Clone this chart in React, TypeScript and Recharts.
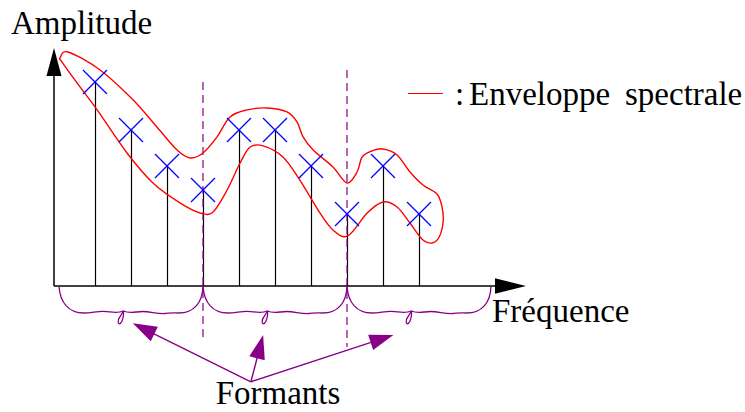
import React from 'react';
import { ComposedChart, XAxis, YAxis, Bar, Scatter, ReferenceLine } from 'recharts';

// harmonics: frequency index and amplitude
const FREQS = [1, 2, 3, 4, 5, 6, 7, 8, 9, 10];
const AMPS = [17, 13, 10, 8, 13, 13, 10, 6, 10, 6];

// closed spectral envelope, upper edge left->right then lower edge right->left
const ENV_X = [
  0.03, 0.25, 1.14, 2.06, 2.72, 3.28, 3.64, 4.0, 4.39, 4.75, 5.22, 5.78, 6.33, 6.61, 6.78, 7.06, 7.61, 8.0,
  8.28, 8.42, 8.69, 9.0, 9.39, 9.75, 10.11, 10.5, 10.64, 10.67, 10.56, 10.36, 10.08,
  9.75, 9.39, 9.0, 8.56, 8.02, 7.61, 7.25, 6.69, 6.22, 5.67, 5.31, 5.03, 4.67, 4.28, 3.92, 3.36, 2.61, 1.89, 1.06, 0.5, 0.08,
];
const ENV_Y = [
  19.0, 19.5, 18.0, 15.5, 13.25, 11.33, 10.67, 11.08, 12.42, 14.08, 14.67, 14.83, 14.5, 13.67, 12.42, 11.33, 9.92, 8.58,
  9.5, 10.75, 11.25, 11.42, 10.92, 9.5, 8.42, 7.67, 6.58, 5.33, 4.08, 3.58, 3.92,
  5.25, 6.58, 7.0, 6.08, 4.17, 4.67, 6.08, 8.83, 10.75, 11.67, 11.58, 10.25, 8.0, 6.17, 6.08, 6.92, 8.58, 11.08, 14.67, 16.92, 18.67,
];

const FORMANT_BOUNDS = [0, 4, 8, 12];
const DASH_X = [4, 8];
const DASH_TOP = [17, 18];
const DASH_BOTTOM = [-4.67, -5.08];

const ARROW_FROM_X = 5.33;
const ARROW_FROM_Y = -7.98;
const ARROW_TIP_X = [2.05, 5.67, 9.29];
const ARROW_TIP_Y = [-3.11, -4.08, -4.08];

const X_MIN = -0.139;
const X_MAX = 12.972;
const Y_MAX = 19.83;

const PURPLE = '#880088';
const SERIF = '"Liberation Serif", "Times New Roman", serif';

const stems = FREQS.map((f, i) => ({ x: f, y: AMPS[i] }));
const envelope = ENV_X.map((x, i) => ({ x, y: ENV_Y[i] }));

function closedSpline(pts: { x: number; y: number }[]) {
  const n = pts.length;
  if (!n) return '';
  let d = `M${pts[0].x},${pts[0].y}`;
  for (let i = 0; i < n; i++) {
    const p0 = pts[(i - 1 + n) % n];
    const p1 = pts[i];
    const p2 = pts[(i + 1) % n];
    const p3 = pts[(i + 2) % n];
    const c1x = p1.x + (p2.x - p0.x) / 6;
    const c1y = p1.y + (p2.y - p0.y) / 6;
    const c2x = p2.x - (p3.x - p1.x) / 6;
    const c2y = p2.y - (p3.y - p1.y) / 6;
    d += ` C${c1x},${c1y} ${c2x},${c2y} ${p2.x},${p2.y}`;
  }
  return d + 'Z';
}

const Stem = (props: any) => {
  const { x, y, width, height } = props;
  const cx = Math.round(x + width / 2) + 0.5;
  return <line x1={cx} y1={y} x2={cx} y2={y + height} stroke="#000" strokeWidth={1.2} />;
};

const Cross = (props: any) => {
  const { cx, cy } = props;
  const r = 12;
  return (
    <g>
      <line x1={cx - r} y1={cy - r} x2={cx + r} y2={cy + r} stroke="#0000ff" strokeWidth={1.3} />
      <line x1={cx - r} y1={cy + r} x2={cx + r} y2={cy - r} stroke="#0000ff" strokeWidth={1.3} />
    </g>
  );
};

const arrowShape = (color: string, len: number, half: number, width: number) => (p: any) => {
  const { x1, y1, x2, y2 } = p;
  const dx = x2 - x1;
  const dy = y2 - y1;
  const d = Math.hypot(dx, dy) || 1;
  const ux = dx / d;
  const uy = dy / d;
  const bx = x2 - ux * len;
  const by = y2 - uy * len;
  return (
    <g>
      <line x1={x1} y1={y1} x2={bx + ux * 2} y2={by + uy * 2} stroke={color} strokeWidth={width} />
      <polygon
        points={`${x2},${y2} ${bx - uy * half},${by + ux * half} ${bx + uy * half},${by - ux * half}`}
        fill={color}
      />
    </g>
  );
};

// horizontal curly brace hanging below the axis, small loop just left of the middle
const braceShape = (p: any) => {
  const { x1, y1, x2 } = p;
  const s = (x2 - x1) / 144.4;
  const X = (v: number) => x1 + v * s;
  const Y = (v: number) => y1 + v;
  const d = [
    `M${X(0)},${Y(0)}`,
    `C${X(1)},${Y(17)} ${X(10)},${Y(27)} ${X(25)},${Y(27)}`,
    `C${X(33)},${Y(27)} ${X(38)},${Y(25)} ${X(45)},${Y(25.3)}`,
    `C${X(52)},${Y(25.6)} ${X(58)},${Y(28)} ${X(64.5)},${Y(25)}`,
    `C${X(65.5)},${Y(29)} ${X(63.5)},${Y(36)} ${X(61.5)},${Y(37.5)}`,
    `C${X(59)},${Y(39)} ${X(58.5)},${Y(34)} ${X(61)},${Y(31)}`,
    `C${X(62.5)},${Y(29)} ${X(63.5)},${Y(26.5)} ${X(64.5)},${Y(25)}`,
    `C${X(71)},${Y(28)} ${X(77)},${Y(25.5)} ${X(84)},${Y(25.5)}`,
    `C${X(92)},${Y(25.5)} ${X(98)},${Y(28)} ${X(106)},${Y(27.5)}`,
    `C${X(112)},${Y(27)} ${X(115)},${Y(26.5)} ${X(120)},${Y(27)}`,
    `C${X(135)},${Y(27)} ${X(144)},${Y(17)} ${X(144.4)},${Y(0)}`,
  ].join(' ');
  return <path d={d} fill="none" stroke={PURPLE} strokeWidth={1.3} />;
};

// HTML labels; font forced with !important so nothing around the chart can swap it
const forceSerif = (el: HTMLElement | null) => {
  if (el) el.style.setProperty('font-family', SERIF, 'important');
};

// x = left edge (or centre when center is set), y = baseline
const Lbl = ({ x, y, center, children }: any) => (
  <div
    ref={forceSerif}
    style={{
      position: 'absolute',
      left: center ? x - 150 : x,
      width: center ? 300 : undefined,
      textAlign: center ? 'center' : 'left',
      top: y - 28,
      fontSize: 33,
      lineHeight: '33px',
      color: '#000',
      whiteSpace: 'nowrap',
      fontFamily: SERIF,
    }}
  >
    {children}
  </div>
);

export default function App() {
  return (
    <div style={{ position: 'absolute', left: 0, top: 0, width: 745, height: 412, background: '#fff' }}>
      <ComposedChart width={745} height={412} data={stems} margin={{ top: 48, right: 219, bottom: 126, left: 54 }}>
        <XAxis type="number" dataKey="x" domain={[X_MIN, X_MAX]} hide allowDataOverflow />
        <YAxis type="number" dataKey="y" domain={[0, Y_MAX]} hide allowDataOverflow />

        {DASH_X.map((x, i) => (
          <ReferenceLine
            key={`dash-${i}`}
            segment={[{ x, y: DASH_TOP[i] }, { x, y: DASH_BOTTOM[i] }]}
            stroke={PURPLE}
            strokeWidth={1.2}
            strokeDasharray="8 5"
            ifOverflow="visible"
          />
        ))}

        <Bar dataKey="y" barSize={2} shape={Stem} isAnimationActive={false} />

        <Scatter
          data={envelope}
          shape={() => <g />}
          line={(p: any) => <path d={closedSpline(p.points)} fill="none" stroke="#ff0000" strokeWidth={1.4} />}
          legendType="none"
          isAnimationActive={false}
        />
        <Scatter data={stems} shape={Cross} isAnimationActive={false} />

        <ReferenceLine
          segment={[{ x: X_MIN, y: 0 }, { x: X_MIN, y: Y_MAX }]}
          shape={arrowShape('#000', 28, 7.5, 1.5)}
          ifOverflow="visible"
        />
        <ReferenceLine
          segment={[{ x: X_MIN, y: 0 }, { x: X_MAX, y: 0 }]}
          shape={arrowShape('#000', 31, 7.8, 1.5)}
          ifOverflow="visible"
        />

        {FORMANT_BOUNDS.slice(0, -1).map((b, i) => (
          <ReferenceLine
            key={`brace-${i}`}
            segment={[{ x: b, y: 0 }, { x: FORMANT_BOUNDS[i + 1], y: 0 }]}
            shape={braceShape}
            ifOverflow="visible"
          />
        ))}

        {ARROW_TIP_X.map((x, i) => (
          <ReferenceLine
            key={`arrow-${i}`}
            segment={[{ x: ARROW_FROM_X, y: ARROW_FROM_Y }, { x, y: ARROW_TIP_Y[i] }]}
            shape={arrowShape(PURPLE, 24, 8, 1.4)}
            ifOverflow="visible"
          />
        ))}
      </ComposedChart>

      <div style={{ position: 'absolute', left: 408, top: 93, width: 35, height: 1.3, background: '#ff0000' }} />
      <Lbl x={11} y={35}>Amplitude</Lbl>
      <Lbl x={455} y={106}>:</Lbl>
      <Lbl x={469} y={106}>Enveloppe</Lbl>
      <Lbl x={625} y={106}>spectrale</Lbl>
      <Lbl x={492} y={323}>Fréquence</Lbl>
      <Lbl x={278} y={405} center>Formants</Lbl>
    </div>
  );
}
